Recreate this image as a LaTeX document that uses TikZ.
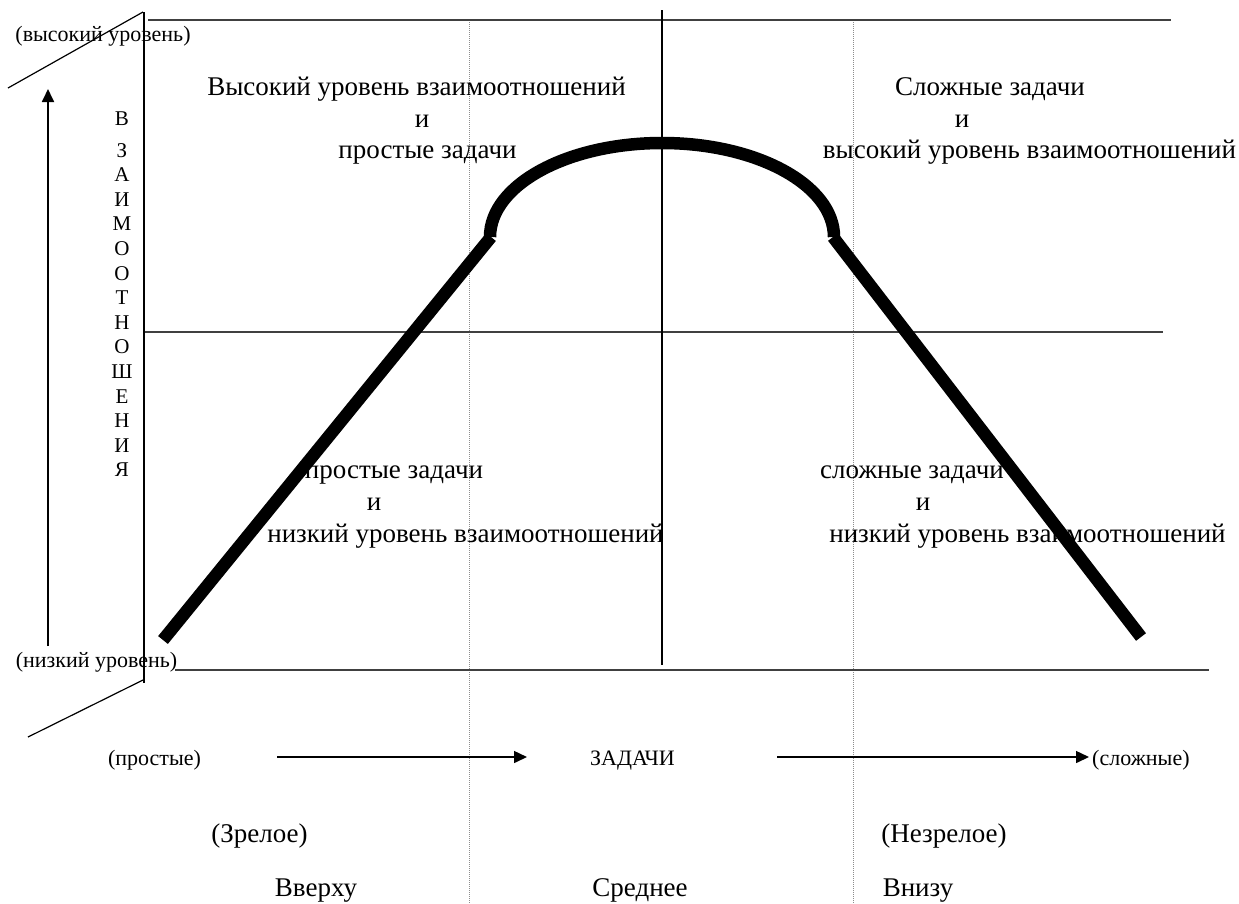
\documentclass[tikz,border=0pt]{standalone}
\usepackage{fontspec}
\setmainfont{Liberation Serif}
\usetikzlibrary{arrows.meta}
\begin{document}
\begin{tikzpicture}[x=1pt,y=-1pt,
  big/.style={font=\fontsize{27}{32}\selectfont, inner sep=0pt, anchor=base},
  small/.style={font=\fontsize{22}{26}\selectfont, inner sep=0pt, anchor=base},
  letter/.style={font=\fontsize{21}{25}\selectfont, inner sep=0pt, anchor=base},
  hline/.style={draw=black!75, line width=1.4pt},
  vline/.style={draw=black, line width=1.8pt},
  dotline/.style={draw=black!45, line width=1pt, dash pattern=on 1pt off 1pt},
  thickcurve/.style={draw=black, line width=12.5pt},
  axisarrow/.style={draw=black, line width=1.8pt, -{Triangle[length=13pt,width=12pt]}}]
\useasboundingbox (0,0) rectangle (1239,903);
\fill[white] (0,0) rectangle (1239,903);

% coordinates
\coordinate (topL) at (148,20);   \coordinate (topR) at (1171,20);
\coordinate (midL) at (145,332);  \coordinate (midR) at (1163,332);
\coordinate (botL) at (175,670);  \coordinate (botR) at (1209,670);
\coordinate (axT) at (144,12);    \coordinate (axB) at (144,683);
\coordinate (cT) at (662,10);     \coordinate (cB) at (662,665);
\coordinate (d1T) at (469,20);    \coordinate (d1B) at (469,903);
\coordinate (d2T) at (853,20);    \coordinate (d2B) at (853,903);
\coordinate (diagA1) at (8,88);   \coordinate (diagA2) at (143,12);
\coordinate (diagB1) at (143,680);\coordinate (diagB2) at (28,737);
\coordinate (upS) at (48,646);    \coordinate (upE) at (48,89);
\coordinate (lS) at (163,640);    \coordinate (lE) at (491,237);
\coordinate (arcS) at (490,237);
\coordinate (rS) at (833,237);    \coordinate (rE) at (1141,637);

% grid lines
\draw[dotline] (d1T) -- (d1B);
\draw[dotline] (d2T) -- (d2B);
\draw[hline] (topL) -- (topR);
\draw[hline] (midL) -- (midR);
\draw[hline] (botL) -- (botR);
\draw[vline] (axT) -- (axB);
\draw[vline] (cT) -- (cB);
\draw[line width=1.2pt] (diagA1) -- (diagA2);
\draw[line width=1.2pt] (diagB1) -- (diagB2);
\draw[axisarrow] (upS) -- (upE);

% thick curve
\draw[thickcurve] (lS) -- (lE);
\draw[thickcurve] (arcS) arc[start angle=180, end angle=360, x radius=172, y radius=94];
\draw[thickcurve] (rS) -- (rE);

% texts top-left
\node[big] (tl1) at (416.5,95) {Высокий уровень взаимоотношений};
\node[big] (tl2) at (422,127) {и};
\node[big] (tl3) at (427.5,158) {простые задачи};
% top-right
\node[big] (tr1) at (990,95) {Сложные задачи};
\node[big] (tr2) at (962,127) {и};
\node[big] (tr3) at (1029.5,158) {высокий уровень взаимоотношений};
% lower-left
\node[big] (ll1) at (394,478) {простые задачи};
\node[big] (ll2) at (374,510) {и};
\node[big] (ll3) at (465.5,542) {низкий уровень взаимоотношений};
% lower-right
\node[big] (lr1) at (912,478) {сложные задачи};
\node[big] (lr2) at (923,510) {и};
\node[big] (lr3) at (1027.5,542) {низкий уровень взаимоотношений};

% axis labels
\node[small] (hi) at (103,41) {(высокий уровень)};
\node[small] (lo) at (96.5,667) {(низкий уровень)};

% vertical word
\node[letter] (v0) at (122,125) {В};
\foreach \ch [count=\i] in {З,А,И,М,О,О,Т,Н,О,Ш,Е,Н,И,Я}{
  \node[letter] (v\i) at (122,{150+7+(\i-1)*24.6}) {\ch};
}

% bottom axis
\node[small] (simple) at (154.5,765) {(простые)};
\node[small] (tasks) at (632.5,765) {ЗАДАЧИ};
\node[small, anchor=base west] (complex) at (1092,765) {(сложные)};
\coordinate (a1S) at (277,757); \coordinate (a1E) at (527,757);
\coordinate (a2S) at (777,757); \coordinate (a2E) at (1089,757);
\draw[line width=1.5pt, -{Triangle[length=13pt,width=12pt]}] (a1S) -- (a1E);
\draw[line width=1.5pt, -{Triangle[length=13pt,width=12pt]}] (a2S) -- (a2E);

\node[big] (mature) at (259.5,842) {(Зрелое)};
\node[big] (immature) at (944,842) {(Незрелое)};
\node[big] (up) at (316,896) {Вверху};
\node[big] (mid) at (640,896) {Среднее};
\node[big] (down) at (918,896) {Внизу};
\end{tikzpicture}
\end{document}
